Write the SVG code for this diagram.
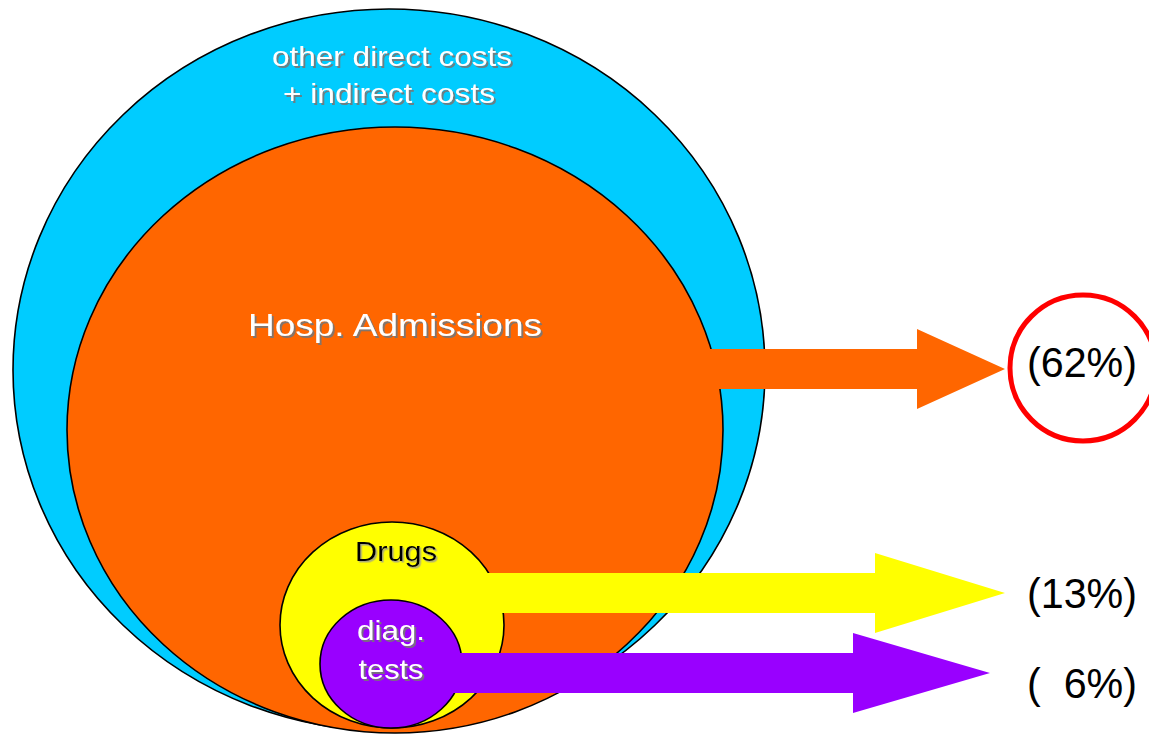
<svg xmlns="http://www.w3.org/2000/svg" width="1149" height="734" viewBox="0 0 1149 734">
  <style>
    .ring { stroke: #000; stroke-width: 1.6; }
    .lbl { font-family: "Liberation Sans", Arial, sans-serif; text-anchor: middle; }
    .white { fill: #fff; filter: url(#shadow); }
    .dark { fill: #000; filter: url(#shadow-soft); }
    .pct { font-family: "Liberation Sans", Arial, sans-serif; font-size: 43px; fill: #000; }
  </style>
  <defs>
    <filter id="shadow" x="-10%" y="-20%" width="130%" height="150%">
      <feDropShadow dx="2" dy="2" stdDeviation="0.6" flood-color="#777" flood-opacity="0.9"/>
    </filter>
    <filter id="shadow-soft" x="-10%" y="-20%" width="130%" height="150%">
      <feDropShadow dx="1.5" dy="1.5" stdDeviation="0.6" flood-color="#999" flood-opacity="0.8"/>
    </filter>
  </defs>

  <rect width="1149" height="734" fill="#fff"/>

  <!-- outer ring: all remaining costs -->
  <g id="node-other">
    <ellipse class="ring" cx="389" cy="370" rx="376" ry="361" fill="#00CCFF"/>
  </g>

  <!-- hospital admissions -->
  <g id="node-hosp">
    <ellipse class="ring" cx="395" cy="430" rx="328" ry="303" fill="#FF6600"/>
  </g>

  <!-- drugs -->
  <g id="node-drugs">
    <ellipse class="ring" cx="392" cy="625" rx="112" ry="103" fill="#FFFF00"/>
  </g>

  <!-- diagnostic tests -->
  <g id="node-diag">
    <ellipse class="ring" cx="391" cy="664" rx="71" ry="64" fill="#9900FF"/>
  </g>

  <!-- block arrows pointing to the share values -->
  <g id="connectors">
    <polygon fill="#FF6600" points="700,349 917,349 917,329 1005,369 917,409 917,389 700,389"/>
    <polygon fill="#FFFF00" points="470,573 875,573 875,553 1005,593 875,633 875,613 470,613"/>
    <polygon fill="#9900FF" points="440,653 853,653 853,633 990,673 853,713 853,693 440,693"/>
  </g>

  <!-- labels inside the rings -->
  <g id="labels">
    <text class="lbl white" x="392" y="66" font-size="28.5" textLength="240" lengthAdjust="spacingAndGlyphs">other direct costs</text>
    <text class="lbl white" x="389" y="103" font-size="28.5" textLength="212" lengthAdjust="spacingAndGlyphs">+ indirect costs</text>
    <text class="lbl white" x="395" y="336" font-size="32" textLength="294" lengthAdjust="spacingAndGlyphs">Hosp. Admissions</text>
    <text class="lbl dark" x="396" y="561" font-size="27.5" textLength="82" lengthAdjust="spacingAndGlyphs">Drugs</text>
    <text class="lbl white" x="391" y="640" font-size="28.5" textLength="68" lengthAdjust="spacingAndGlyphs">diag.</text>
    <text class="lbl white" x="391" y="679" font-size="28.5" textLength="65" lengthAdjust="spacingAndGlyphs">tests</text>
  </g>

  <!-- share values -->
  <g id="node-62">
    <circle cx="1083" cy="368" r="73" fill="none" stroke="#FF0000" stroke-width="5"/>
    <text class="pct" x="1027" y="377" textLength="110" lengthAdjust="spacingAndGlyphs">(62%)</text>
  </g>
  <g id="node-13">
    <text class="pct" x="1027" y="608" textLength="110" lengthAdjust="spacingAndGlyphs">(13%)</text>
  </g>
  <g id="node-6">
    <text class="pct" x="1027" y="698" textLength="110" lengthAdjust="spacingAndGlyphs" xml:space="preserve">(  6%)</text>
  </g>
</svg>
